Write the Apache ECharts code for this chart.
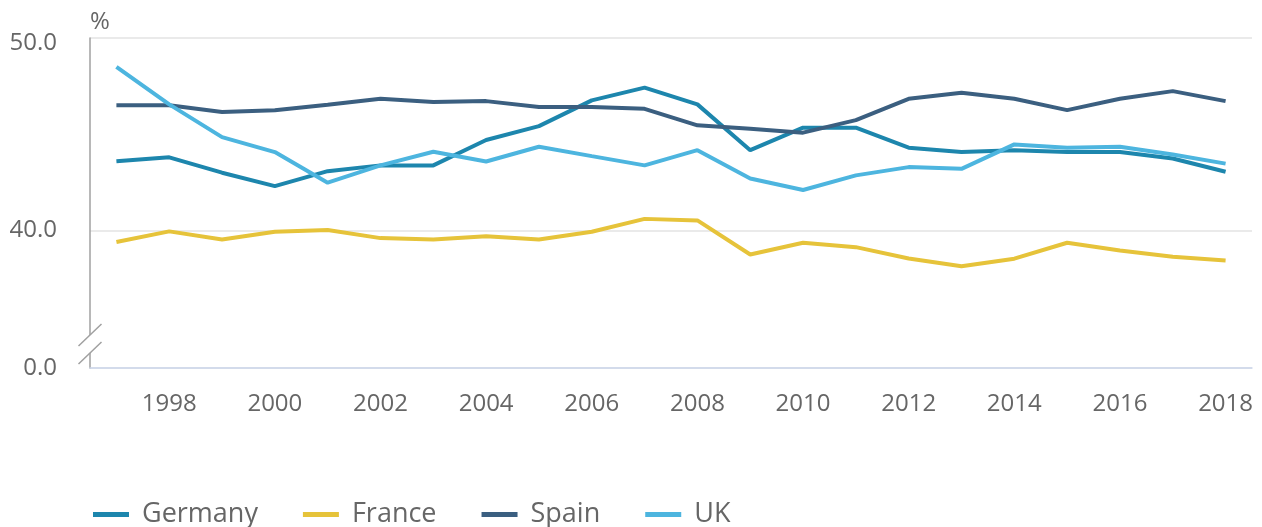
<!DOCTYPE html>
<html>
<head>
<meta charset="utf-8">
<script src="https://cdn.jsdelivr.net/npm/echarts@6/dist/echarts.min.js"></script>
<style>
html,body{margin:0;padding:0;background:#fff;}
#chart{width:1262px;height:527px;}
</style>
</head>
<body>
<div id="chart"></div>
<script>
const years = ['1997','1998','1999','2000','2001','2002','2003','2004','2005','2006','2007','2008','2009','2010','2011','2012','2013','2014','2015','2016','2017','2018'];
const germany = [43.6, 43.8, 43.0, 42.3, 43.08, 43.38, 43.38, 44.7, 45.42, 46.76, 47.42, 46.55, 44.17, 45.34, 45.34, 44.3, 44.07, 44.17, 44.07, 44.07, 43.74, 43.05];
const france = [39.4, 39.95, 39.53, 39.93, 40.02, 39.6, 39.53, 39.7, 39.53, 39.93, 40.6, 40.52, 38.75, 39.36, 39.13, 38.54, 38.14, 38.53, 39.36, 38.96, 38.63, 38.44];
const spain = [46.5, 46.5, 46.15, 46.25, 46.53, 46.84, 46.67, 46.72, 46.41, 46.41, 46.32, 45.46, 45.28, 45.08, 45.73, 46.84, 47.16, 46.84, 46.25, 46.84, 47.24, 46.72];
const uk = [48.5, 46.55, 44.85, 44.07, 42.48, 43.38, 44.09, 43.58, 44.35, 43.86, 43.38, 44.17, 42.7, 42.1, 42.86, 43.29, 43.2, 44.47, 44.3, 44.35, 43.95, 43.47];
const seriesNames = ['Germany', 'France', 'Spain', 'UK'];
const yMin = 32.85, yMax = 50;
const yTickValues = [yMin, 40, 50];

const colors = ['#1d86ad', '#e6c33a', '#3b5f80', '#4db5df'];
const FONT = '"Open Sans", sans-serif';
const GRID = {left: 90, right: 10, top: 38, bottom: 159};

const chart = echarts.init(document.getElementById('chart'), null, {renderer: 'canvas'});
const dataSets = [germany, france, spain, uk];

const option = {
  animation: false,
  color: colors,
  textStyle: {fontFamily: FONT},
  grid: GRID,
  legend: {
    left: 88,
    top: 496,
    icon: 'rect',
    itemWidth: 36,
    itemHeight: 5,
    itemGap: 45,
    textStyle: {fontFamily: FONT, fontSize: 27, color: '#666666', padding: [0, 0, 0, 8]},
    data: seriesNames
  },
  xAxis: {
    type: 'category',
    data: years,
    boundaryGap: true,
    axisLine: {lineStyle: {color: '#ccd6eb', width: 1.5}},
    axisTick: {
      alignWithLabel: true,
      length: 10,
      interval: (i) => i % 2 === 1,
      lineStyle: {color: '#ccd6eb', width: 1.5}
    },
    axisLabel: {
      interval: (i) => i % 2 === 1,
      fontFamily: FONT, fontSize: 24, color: '#666666', margin: 24
    },
    splitLine: {show: false}
  },
  yAxis: {
    type: 'value',
    min: yMin,
    max: yMax,
    name: '%',
    nameLocation: 'end',
    nameGap: 4,
    nameTextStyle: {fontFamily: FONT, fontSize: 24, color: '#666666', align: 'left'},
    axisLine: {show: true, lineStyle: {color: '#a0a0a0', width: 1.5}},
    axisTick: {show: false, customValues: yTickValues},
    axisLabel: {
      customValues: yTickValues,
      fontFamily: FONT, fontSize: 24, color: '#666666', margin: 33,
      formatter: (v) => {
        if (Math.abs(v - yMin) < 1e-6) return '0.0';
        if (v === yMax) return '{t|' + v.toFixed(1) + '}';
        return v.toFixed(1);
      },
      rich: {t: {fontFamily: FONT, fontSize: 24, color: '#666666', padding: [11, 0, 0, 0]}}
    },
    splitLine: {show: true, lineStyle: {color: '#e3e3e3', width: 1.5}}
  },
  series: dataSets.map((d, i) => ({
    name: seriesNames[i],
    type: 'line',
    data: d,
    showSymbol: false,
    symbol: 'none',
    lineStyle: {width: 4, color: colors[i]},
    itemStyle: {color: colors[i]}
  }))
};
chart.setOption(option);

// axis break decoration on the y-axis line
const yc = chart.convertToPixel({yAxisIndex: 0}, 34.1);
const ax = GRID.left;
chart.setOption({
  graphic: [
    {type: 'rect', shape: {x: ax - 3, y: yc - 9, width: 6, height: 18}, style: {fill: '#ffffff'}, z: 100},
    {type: 'line', shape: {x1: ax - 11.5, y1: yc - 9 + 11, x2: ax + 11.5, y2: yc - 9 - 11}, style: {stroke: '#a0a0a0', lineWidth: 1.5}, z: 101},
    {type: 'line', shape: {x1: ax - 11.5, y1: yc + 9 + 11, x2: ax + 11.5, y2: yc + 9 - 11}, style: {stroke: '#a0a0a0', lineWidth: 1.5}, z: 101}
  ]
});
</script>
</body>
</html>
